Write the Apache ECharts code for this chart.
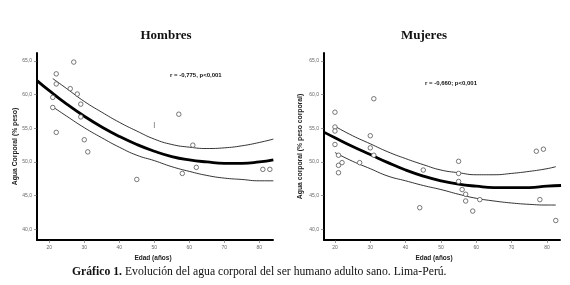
<!DOCTYPE html>
<html>
<head>
<meta charset="utf-8">
<script src="https://cdn.jsdelivr.net/npm/echarts@6/dist/echarts.min.js"></script>
<style>
  html, body { margin: 0; padding: 0; background: #fff; }
  #main { width: 570px; height: 285px; }
</style>
</head>
<body>
<div id="main"></div>
<script>
// Hombres: scatter points [edad, agua corporal %]
var hombresPuntos = [
  [27, 64.85], [22, 63.1], [22, 61.6], [21, 59.6], [21, 58.1], [22, 54.4],
  [26, 60.9], [28, 60.1], [29, 58.6], [29, 56.7], [30, 53.3], [31, 51.5],
  [45, 47.4], [57, 57.1], [58, 48.3], [61, 52.5], [62, 49.2], [81, 48.9], [83, 48.9]
];
var hombresMarca = [[50, 55.5]];
// Hombres: fitted curve and confidence band
var hombresAjuste = [
  [16.5, 62.1], [20, 60.6], [25, 58.6], [30, 56.8], [35, 55.2], [40, 53.8], [45, 52.6],
  [50, 51.6], [55, 50.8], [60, 50.3], [65, 50.0], [70, 49.8], [75, 49.8], [80, 50.0], [84, 50.3]
];
var hombresSuperior = [
  [21, 62.4], [25, 60.9], [30, 59.0], [35, 57.4], [40, 55.9], [45, 54.6], [50, 53.4],
  [55, 52.6], [60, 52.2], [65, 52.0], [70, 52.1], [75, 52.4], [80, 52.9], [84, 53.4]
];
var hombresInferior = [
  [21, 58.2], [25, 56.8], [30, 55.1], [35, 53.6], [40, 52.2], [45, 51.0], [50, 50.2],
  [55, 49.3], [60, 48.6], [65, 48.0], [70, 47.6], [75, 47.4], [80, 47.2], [84, 47.2]
];

// Mujeres
var mujeresPuntos = [
  [20, 57.4], [20, 55.2], [20, 54.6], [20, 52.6], [21, 51.0], [21, 49.5], [21, 48.4],
  [22, 49.9], [27, 49.9], [30, 53.9], [30, 52.1], [31, 59.4], [31, 51.0], [45, 48.8],
  [44, 43.2], [55, 50.1], [55, 48.3], [55, 47.1], [56, 45.9], [57, 45.2], [57, 44.2],
  [59, 42.7], [61, 44.4], [77, 51.6], [79, 51.9], [78, 44.4], [82.5, 41.3]
];
var mujeresAjuste = [
  [17, 54.4], [20, 53.6], [25, 52.3], [30, 51.1], [35, 49.9], [40, 48.8], [45, 47.9],
  [50, 47.2], [55, 46.7], [60, 46.4], [65, 46.2], [70, 46.2], [75, 46.2], [80, 46.4], [84, 46.5]
];
var mujeresSuperior = [
  [20, 55.3], [25, 53.9], [30, 52.7], [35, 51.5], [40, 50.5], [45, 49.6], [50, 48.8],
  [55, 48.4], [60, 48.1], [65, 48.1], [70, 48.3], [75, 48.6], [80, 49.0], [82.5, 49.3]
];
var mujeresInferior = [
  [20, 51.4], [25, 50.1], [30, 49.0], [35, 47.9], [40, 47.2], [45, 46.5], [50, 45.9],
  [55, 45.2], [60, 44.6], [65, 44.2], [70, 43.9], [75, 43.7], [80, 43.6], [82.5, 43.6]
];

var ticksX = [20, 30, 40, 50, 60, 70, 80];
var ticksY = [40, 45, 50, 55, 60, 65];

var chart = echarts.init(document.getElementById('main'));

function ejeX(idx, min, max, pad) {
  return {
    type: 'value', gridIndex: idx, min: min, max: max,
    name: 'Edad (años)', nameLocation: 'middle', nameGap: 13,
    nameTextStyle: { fontFamily: 'Liberation Sans', fontWeight: 'bold', fontSize: 6.5, color: '#222', padding: pad },
    axisLine: { lineStyle: { color: '#000', width: 2 } },
    axisTick: { customValues: ticksX, length: 3, lineStyle: { color: '#555', width: 0.6 } },
    axisLabel: { customValues: ticksX, fontSize: 5, color: '#666', margin: 5, fontFamily: 'Liberation Sans' },
    splitLine: { show: false }
  };
}
function ejeY(idx, nombre, gap) {
  return {
    type: 'value', gridIndex: idx, min: 38.4, max: 66.2,
    name: nombre, nameLocation: 'middle', nameGap: gap,
    nameTextStyle: { fontFamily: 'Liberation Sans', fontWeight: 'bold', fontSize: 6.8, color: '#222' },
    axisLine: { show: true, lineStyle: { color: '#000', width: 2 } },
    axisTick: { show: true, customValues: ticksY, length: 3, lineStyle: { color: '#555', width: 0.6 } },
    axisLabel: {
      customValues: ticksY, fontSize: 5, color: '#666', margin: 5, fontFamily: 'Liberation Sans',
      formatter: function (v) { return v.toFixed(1).replace('.', ','); }
    },
    splitLine: { show: false }
  };
}
function linea(idx, datos, ancho) {
  return {
    type: 'line', xAxisIndex: idx, yAxisIndex: idx, data: datos, smooth: true,
    showSymbol: false, silent: true, z: 2,
    lineStyle: { color: '#000', width: ancho }
  };
}
function puntos(idx, datos) {
  return {
    type: 'scatter', xAxisIndex: idx, yAxisIndex: idx, data: datos, z: 3,
    symbol: 'circle', symbolSize: 4.5,
    itemStyle: { color: '#fff', borderColor: '#555', borderWidth: 0.8, opacity: 1 }
  };
}

var option = {
  backgroundColor: '#fff',
  animation: false,
  title: [
    { text: 'Hombres', left: 161, top: 24, textAlign: 'center',
      textStyle: { fontFamily: 'Liberation Serif', fontWeight: 'bold', fontSize: 13, color: '#111' } },
    { text: 'Mujeres', left: 419, top: 24, textAlign: 'center',
      textStyle: { fontFamily: 'Liberation Serif', fontWeight: 'bold', fontSize: 13, color: '#111' } }
  ],
  grid: [
    { left: 37, right: 297, top: 53, bottom: 45 },
    { left: 324, right: 10, top: 53, bottom: 45 }
  ],
  xAxis: [ejeX(0, 16.5, 83.9, [0, 4, 0, 0]), ejeX(1, 16.9, 83.7, [0, 16, 0, 0])],
  yAxis: [ejeY(0, 'Agua Corporal (% peso)', 17), ejeY(1, 'Agua corporal (% peso corporal)', 20)],
  series: [
    linea(0, hombresSuperior, 0.8),
    linea(0, hombresInferior, 0.8),
    linea(0, hombresAjuste, 2.8),
    puntos(0, hombresPuntos),
    {
      type: 'scatter', xAxisIndex: 0, yAxisIndex: 0, data: hombresMarca,
      symbol: 'rect', symbolSize: [0.8, 6], itemStyle: { color: '#555' }
    },
    linea(1, mujeresSuperior, 0.8),
    linea(1, mujeresInferior, 0.8),
    linea(1, mujeresAjuste, 2.8),
    puntos(1, mujeresPuntos)
  ],
  graphic: [
    { type: 'text', left: 170, top: 72,
      style: { text: 'r = -0,775, p<0,001', font: 'bold 6px "Liberation Sans"', fill: '#111' } },
    { type: 'text', left: 425, top: 80,
      style: { text: 'r = -0,660; p<0,001', font: 'bold 6px "Liberation Sans"', fill: '#111' } },
    { type: 'text', left: 72, top: 266,
      style: {
        text: '{b|Gráfico 1.} Evolución del agua corporal del ser humano adulto sano. Lima-Perú.',
        rich: {
          b: { fontFamily: 'Liberation Serif', fontWeight: 'bold', fontSize: 11.7, fill: '#111' }
        },
        fontFamily: 'Liberation Serif', fontSize: 11.7, fill: '#111'
      } }
  ]
};
chart.setOption(option);
</script>
</body>
</html>
